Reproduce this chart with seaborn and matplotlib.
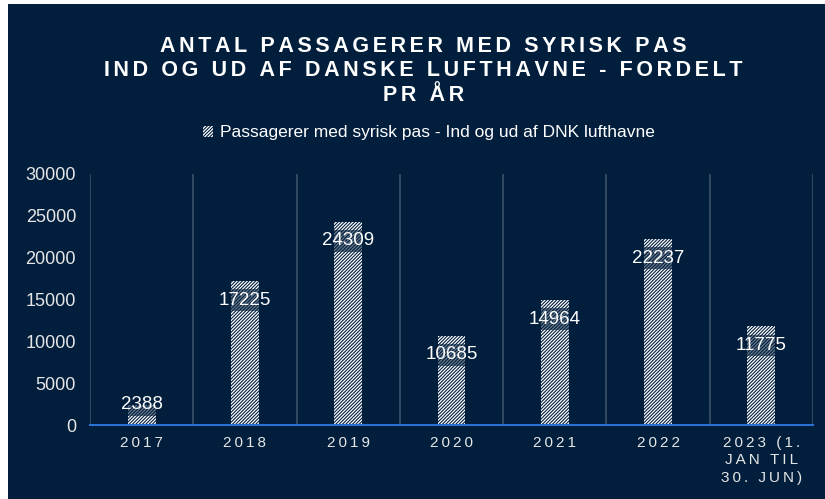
import numpy as np
import pandas as pd
import matplotlib
matplotlib.use("Agg")
import matplotlib.pyplot as plt
import matplotlib.patches as mpatches
import seaborn as sns

years = ["2017", "2018", "2019", "2020", "2021", "2022", "2023 (1.\nJAN TIL\n30. JUN)"]
passengers = [2388, 17225, 24309, 10685, 14964, 22237, 11775]
yticks = [0, 5000, 10000, 15000, 20000, 25000, 30000]

title = "ANTAL PASSAGERER MED SYRISK PAS\nIND OG UD AF DANSKE LUFTHAVNE - FORDELT\nPR ÅR"
series_name = "Passagerer med syrisk pas - Ind og ud af DNK lufthavne"

navy = "#011e3c"
grid_col = "#3c506a"
text_col = "#e6e6e6"
axis_blue = "#2a6fd2"


def spaced(s, gap="\u2009"):
    # letter spacing like the original (small space between characters)
    return "\n".join(gap.join(line) for line in s.split("\n"))


sns.set_theme(style="white")
plt.rcParams["font.family"] = ["Liberation Sans", "DejaVu Sans"]
plt.rcParams["hatch.linewidth"] = 0.8

fig = plt.figure(figsize=(8.25, 4.99), dpi=100, facecolor="white")
# navy panel (thin white margin left and top, like the source screenshot)
fig.patches.append(mpatches.Rectangle((8 / 825, 0), 1, 1 - 4 / 499, transform=fig.transFigure,
                                      facecolor=navy, edgecolor="none", zorder=-10))

ax = fig.add_axes([90 / 825, 74 / 499, 723 / 825, 251 / 499])
ax.set_facecolor(navy)

df = pd.DataFrame({"year": years, "n": passengers})
sns.barplot(data=df, x="year", y="n", ax=ax, width=0.27, color="white", saturation=1)

for p in ax.patches:
    p.set_facecolor("white")
    p.set_edgecolor(navy)
    p.set_hatch("/" * 10)
    p.set_linewidth(0)

# value labels near the top of each bar, dark translucent box
for i, v in enumerate(passengers):
    ax.text(i, max(v - 2300, 2400), str(v), ha="center", va="center", fontsize=13.5,
            color="white", zorder=5,
            bbox=dict(boxstyle="square,pad=0.12", facecolor=navy, alpha=0.6, edgecolor="none"))

ax.set_ylim(0, 30000)
ax.set_xlim(-0.5, len(years) - 0.5)
ax.set_yticks(yticks)
ax.set_yticklabels([str(t) for t in yticks], fontsize=13, color=text_col)
ax.set_xticks(range(len(years)))
ax.set_xticklabels([spaced(y) for y in years], fontsize=11, color=text_col, linespacing=1.3)
ax.tick_params(axis="both", length=0)
ax.tick_params(axis="y", pad=10)
ax.tick_params(axis="x", pad=8)
ax.set_xlabel("")
ax.set_ylabel("")

# vertical separators between categories
for b in np.arange(-0.5, len(years), 1.0):
    ax.axvline(b, color=grid_col, linewidth=1.2, zorder=0)

for s in ["top", "right", "left"]:
    ax.spines[s].set_visible(False)
ax.spines["bottom"].set_color(axis_blue)
ax.spines["bottom"].set_linewidth(1.5)

fig.text(0.513, 1 - 71 / 499, spaced(title, "\u2006"), ha="center", va="center", fontsize=15.5,
         fontweight="bold", color="white", linespacing=1.22)

handle = mpatches.Patch(facecolor="white", edgecolor=navy, hatch="/" * 10, linewidth=0)
leg = fig.legend([handle], [series_name], loc="center", bbox_to_anchor=(0.52, 1 - 133 / 499),
                 frameon=False, fontsize=12.5, handlelength=0.6, handleheight=0.6,
                 handletextpad=0.4, labelcolor="white")

fig.savefig("out.png", dpi=100, facecolor=fig.get_facecolor())
